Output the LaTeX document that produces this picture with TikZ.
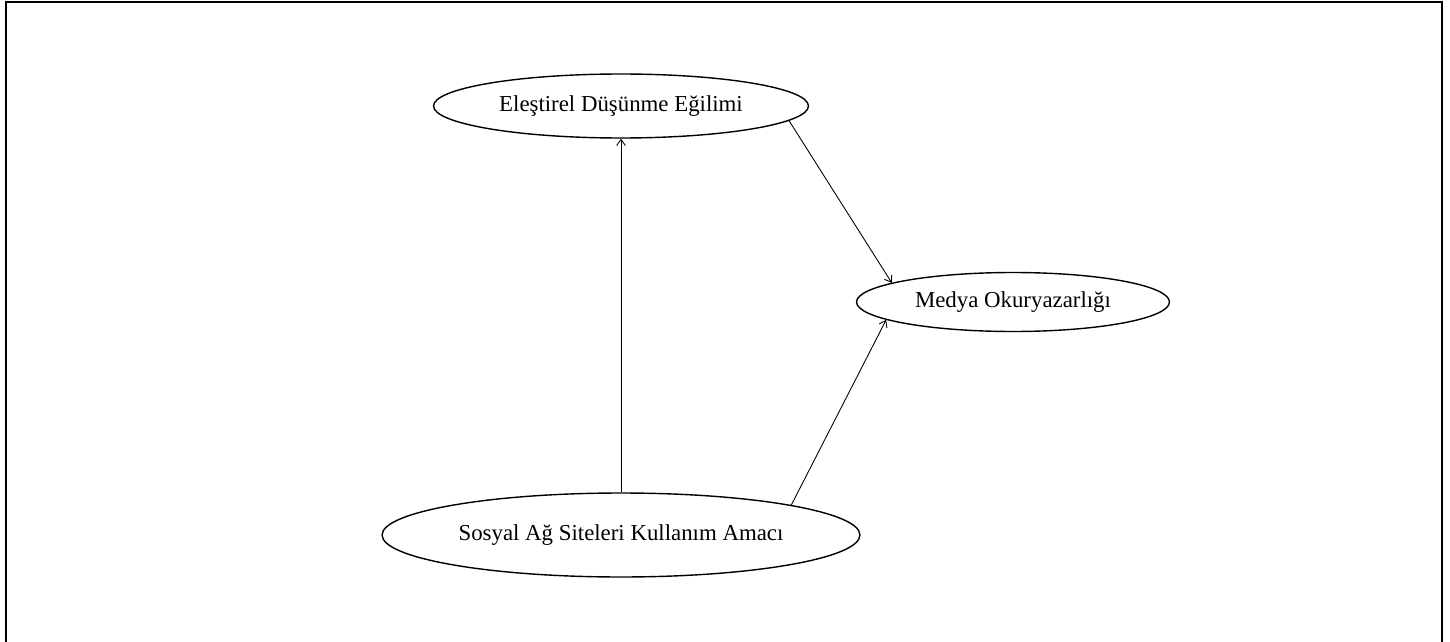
\documentclass[tikz,border=0pt]{standalone}
\usepackage{fontspec}
\setmainfont{Liberation Serif}
\usetikzlibrary{shapes.geometric,arrows.meta}

\begin{document}
\begin{tikzpicture}[x=0.02cm,y=-0.02cm,
  oval/.style={ellipse,draw,line width=0.8pt,inner sep=0pt,font=\fontsize{13}{15}\selectfont},
  yol/.style={-{Straight Barb[length=3.5pt,width=5pt]},line width=0.5pt}]
\useasboundingbox (0,0) rectangle (1450,642);
\draw[line width=1.4pt] (6,660)--(6,2)--(1442,2)--(1442,660);

\node[oval,minimum width=7.5cm,minimum height=1.28cm] (D1) at (621,106) {Eleştirel Düşünme Eğilimi};
\node[oval,minimum width=6.26cm,minimum height=1.18cm] (M1) at (1013,302) {Medya Okuryazarlığı};
\node[oval,minimum width=9.56cm,minimum height=1.68cm] (S1) at (621,535) {Sosyal Ağ Siteleri Kullanım Amacı};

\draw[yol] (S1.north) -- (D1.south);
\draw[yol] (D1.-5.8) -- (M1.171.1);
\draw[yol] (S1.10.4) -- (M1.188.5);
\end{tikzpicture}
\end{document}
